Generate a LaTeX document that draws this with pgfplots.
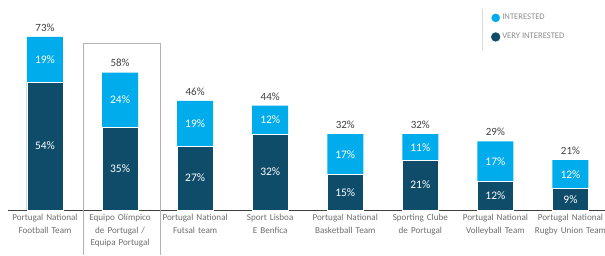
\documentclass[border=0pt]{standalone}
\usepackage{pgfplots}
\pgfplotsset{compat=1.18}
\usepackage{pgfplotstable}
\usepackage{fontspec}
\setmainfont{Carlito}
\definecolor{lightb}{RGB}{0,172,236}
\definecolor{darkb}{RGB}{14,76,106}
\definecolor{txt}{RGB}{64,64,64}
\definecolor{lbl}{RGB}{110,110,110}
\definecolor{leg}{RGB}{140,140,140}
\pgfplotstableread{
x d l t
0 54 19 73
1 35 24 58
2 27 19 46
3 32 12 44
4 15 17 32
5 21 11 32
6 12 17 29
7 9 12 21
}\data
\begin{document}
\begin{tikzpicture}
\useasboundingbox (-8.5pt,-45pt) rectangle (596.5pt,210pt);
\begin{axis}[
 at={(0,0)}, anchor=south west,
 width=596.5pt, height=210pt, scale only axis,
 /pgf/number format/assume math mode=true,
 xmin=-0.486, xmax=7.46, ymin=0, ymax=88.6,
 axis x line=bottom, axis y line=none,
 x axis line style={-, draw=txt, line width=0.8pt},
 xtick={0,...,7}, major tick length=0pt,
 xticklabels={{Portugal National\\Football Team},{Equipo Olímpico\\de Portugal /\\Equipa Portugal},{Portugal National\\Futsal team},{Sport Lisboa\\E Benfica},{Portugal National\\Basketball Team},{Sporting Clube\\de Portugal},{Portugal National\\Volleyball Team},{Portugal National\\Rugby Union Team}},
 xticklabel style={font=\fontsize{9.1}{12.5}\selectfont, text width=78pt, align=center, text=lbl, anchor=north, yshift=-1pt},
 clip=false,
 legend style={at={(0.807,0.947)}, anchor=north west, draw=none, fill=none, font=\fontsize{8.6}{9}\selectfont, text=leg, row sep=8pt, inner sep=1pt},
 legend cell align=left,
]
\addplot[ybar, bar width=36pt, bar shift=0pt, fill=lightb, draw=none,
  legend image code/.code={\fill[lightb] (0.2cm,0cm) circle (4.3pt);}] table[x=x,y=t]{\data};
\addlegendentry{INTERESTED}
\addplot[ybar, bar width=36pt, bar shift=0pt, fill=darkb, draw=white, line width=0.6pt,
  legend image code/.code={\fill[darkb] (0.2cm,0cm) circle (4.3pt);}] table[x=x,y=d]{\data};
\addlegendentry{VERY INTERESTED}
\addplot[draw=none, mark=none, nodes near coords={\pgfmathprintnumber{\pgfplotspointmeta}\%}, point meta=explicit,
  nodes near coords style={anchor=center, font=\fontsize{11.5}{11.5}\selectfont, text=white}]
  table[x=x, y expr=\thisrow{d}/2, meta=d]{\data};
\addplot[draw=none, mark=none, nodes near coords={\pgfmathprintnumber{\pgfplotspointmeta}\%}, point meta=explicit,
  nodes near coords style={anchor=center, font=\fontsize{11.5}{11.5}\selectfont, text=white}]
  table[x=x, y expr=(\thisrow{d}+\thisrow{t})/2, meta=l]{\data};
\addplot[draw=none, mark=none, nodes near coords={\pgfmathprintnumber{\pgfplotspointmeta}\%}, point meta=explicit,
  nodes near coords style={anchor=south, font=\fontsize{11}{11}\selectfont, text=txt, yshift=2pt}]
  table[x=x, y=t, meta=t]{\data};
\draw[gray!60, line width=0.6pt] (axis cs:0.51,-19) -- (axis cs:0.51,70.5) -- (axis cs:1.54,70.5) -- (axis cs:1.54,-19);
\draw[gray!30, line width=0.6pt] (rel axis cs:0.794,0.76) -- (rel axis cs:0.794,0.955);
\end{axis}
\end{tikzpicture}
\end{document}
